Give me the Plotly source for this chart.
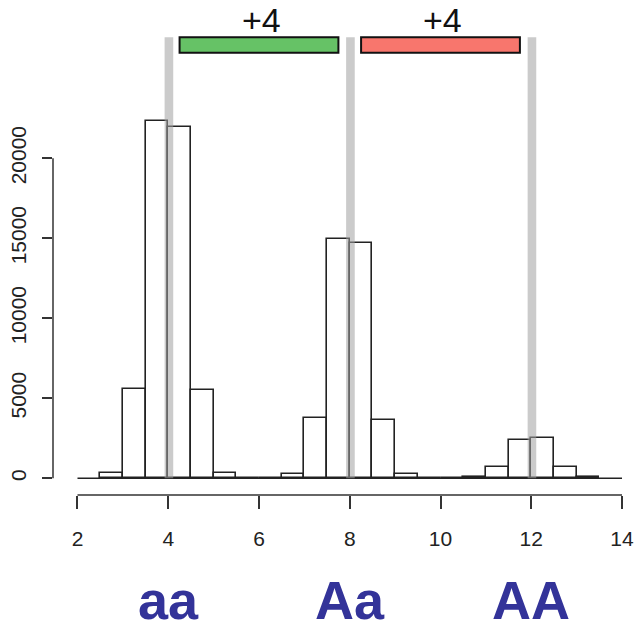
import plotly.graph_objects as go

# Histogram bins (left edges, width 0.5) and counts
bin_left = [2.5, 3.0, 3.5, 4.0, 4.5, 5.0, 5.5, 6.0, 6.5, 7.0, 7.5, 8.0, 8.5, 9.0,
            9.5, 10.0, 10.5, 11.0, 11.5, 12.0, 12.5, 13.0]
counts = [330, 5600, 22350, 21950, 5550, 330, 0, 0, 250, 3740, 14950, 14700, 3650, 250,
          0, 0, 100, 680, 2400, 2500, 680, 100]
bin_width = 0.5

x_ticks = [2, 4, 6, 8, 10, 12, 14]
y_ticks = [0, 5000, 10000, 15000, 20000]

genotype_pos = [4, 8, 12]
genotype_labels = ["aa", "Aa", "AA"]

step_start = [4.25, 8.25]
step_end = [7.75, 11.75]
step_colors = ["#66C266", "#F8766D"]
step_labels = ["+4", "+4"]

centers = [b + bin_width / 2 for b in bin_left]

fig = go.Figure()
fig.add_trace(go.Bar(
    x=centers, y=counts, width=bin_width,
    marker=dict(color="white", line=dict(color="#222222", width=1.6)),
    showlegend=False, hoverinfo="x+y",
))

shapes = []
# baseline at 0
shapes.append(dict(type="line", xref="x", yref="y", x0=x_ticks[0], x1=x_ticks[-1], y0=0, y1=0,
                   line=dict(color="#222222", width=1.5)))
# x axis line (detached, R style)
shapes.append(dict(type="line", xref="x", yref="paper", x0=x_ticks[0], x1=x_ticks[-1], y0=0, y1=0,
                   line=dict(color="#333333", width=1.5)))
# y axis line
shapes.append(dict(type="line", xref="paper", yref="y", x0=0, x1=0, y0=y_ticks[0], y1=y_ticks[-1],
                   line=dict(color="#333333", width=1.5)))
# grey vertical bands at genotype positions
for p in genotype_pos:
    shapes.append(dict(type="rect", xref="x", yref="y", x0=p - 0.08, x1=p + 0.11, y0=0, y1=27560,
                       fillcolor="rgba(160,160,160,0.55)", line=dict(width=0), layer="above"))
# coloured step bars
for s, e, c in zip(step_start, step_end, step_colors):
    shapes.append(dict(type="rect", xref="x", yref="y", x0=s, x1=e, y0=26600, y1=27560,
                       fillcolor=c, line=dict(color="#111111", width=2), layer="above"))

annotations = []
for s, e, t in zip(step_start, step_end, step_labels):
    annotations.append(dict(x=(s + e) / 2 + 0.05, y=28675, xref="x", yref="y", text=t,
                            showarrow=False, yanchor="middle",
                            font=dict(family="Liberation Sans, Arial", size=34, color="#111111")))
for p, t in zip(genotype_pos, genotype_labels):
    annotations.append(dict(x=p, y=-0.2143, xref="x", yref="paper", text="<b>%s</b>" % t,
                            showarrow=False, yanchor="middle",
                            font=dict(family="Liberation Sans, Arial", size=54, color="#333399")))

fig.update_layout(
    width=634, height=627,
    margin=dict(l=53, r=4, t=5, b=132),
    paper_bgcolor="white", plot_bgcolor="white",
    bargap=0,
    shapes=shapes,
    annotations=annotations,
    xaxis=dict(range=[1.4604, 14.176], tickvals=x_ticks, ticktext=[str(v) for v in x_ticks],
               ticks="outside", ticklen=13, tickwidth=1.5, tickcolor="#333333",
               showline=False, showgrid=False, zeroline=False, automargin=False,
               ticklabelstandoff=12, ticklabeloverflow="allow",
               tickfont=dict(family="Liberation Sans, Arial", size=21, color="#222222")),
    yaxis=dict(range=[-1044, 29581], tickvals=y_ticks, ticktext=[str(v) for v in y_ticks],
               ticks="outside", ticklen=10, tickwidth=1.5, tickcolor="#333333",
               tickangle=-90, showline=False, showgrid=False, zeroline=False, automargin=False,
               ticklabelstandoff=8, ticklabeloverflow="allow",
               tickfont=dict(family="Liberation Sans, Arial", size=21, color="#222222")),
)

fig.write_html("out.html", config={"displayModeBar": False},
               post_script="document.body.style.margin='0';")
